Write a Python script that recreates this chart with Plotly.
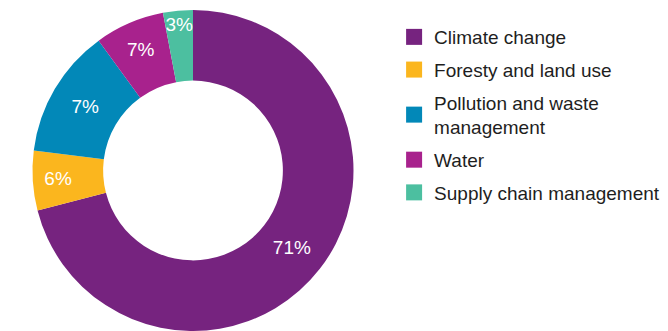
import plotly.graph_objects as go

categories = ["Climate change", "Foresty and land use", "Pollution and waste<br>management", "Water", "Supply chain management"]
values = [71, 6, 13, 7, 3]
value_labels = ["71%", "6%", "7%", "7%", "3%"]
colors = ["#76237f", "#fbb61e", "#0288b8", "#a8228d", "#4cbfa0"]

fig = go.Figure()
fig.add_trace(go.Pie(
    labels=categories,
    values=values,
    text=value_labels,
    textinfo="text",
    textposition="inside",
    insidetextorientation="horizontal",
    textfont=dict(color="white", size=19, family="Liberation Sans"),
    marker=dict(colors=colors, line=dict(width=0)),
    hole=0.56,
    sort=False,
    direction="clockwise",
    rotation=0,
    domain=dict(x=[0.0371, 0.5235], y=[0, 1]),
    hoverinfo="label+percent",
    showlegend=False,
))

# legend entries (one per category) so that swatch size and spacing can be controlled
for cat, col in zip(categories, colors):
    fig.add_trace(go.Scatter(
        x=[None], y=[None], mode="markers",
        marker=dict(symbol="square", size=16, color=col),
        name=cat, legendgroup=cat, showlegend=True, hoverinfo="skip",
    ))

fig.update_xaxes(visible=False)
fig.update_yaxes(visible=False)

fig.update_layout(
    width=660, height=323,
    margin=dict(l=0, r=0, t=2, b=0),
    paper_bgcolor="white",
    plot_bgcolor="white",
    uniformtext=dict(minsize=19, mode="show"),
    showlegend=True,
    legend=dict(
        x=0.585, xanchor="left", y=0.975, yanchor="top",
        font=dict(size=19, family="Liberation Sans", color="#1e1e1e"),
        bgcolor="rgba(0,0,0,0)",
        tracegroupgap=5,
        itemsizing="trace",
    ),
)

fig.write_html("out.html")
